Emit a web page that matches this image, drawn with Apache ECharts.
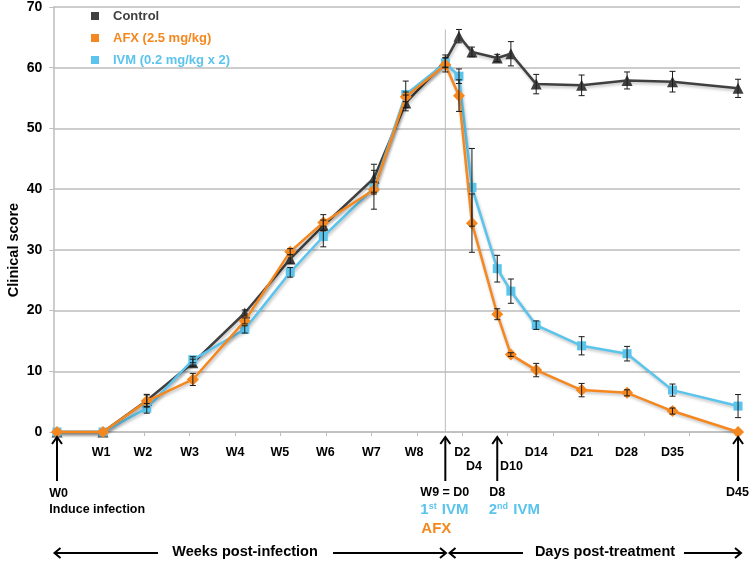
<!DOCTYPE html>
<html>
<head>
<meta charset="utf-8">
<script src="https://cdn.jsdelivr.net/npm/echarts@6/dist/echarts.min.js"></script>
<style>html,body{margin:0;padding:0;background:#fff;}#c{width:750px;height:563px;}</style>
</head>
<body>
<div id="c"></div>
<script>
// ---- data ----
var seriesNames = ['Control', 'AFX (2.5 mg/kg)', 'IVM (0.2 mg/kg x 2)'];
var timePoints = ['W0','W1','W2','W3','W4','W5','W6','W7','W8','D0','D2','D4','D8','D10','D14','D21','D28','D35','D45'];
var xValues = [0.57, 7.66, 14.4, 21.5, 29.5, 36.5, 41.6, 49.4, 54.3, 60.4, 62.5, 64.5, 68.4, 70.5, 74.4, 81.4, 88.4, 95.4, 105.5];
var controlValues = [0, 0, 5.2, 11.4, 19.6, 28.5, 34.0, 41.8, 54.2, 61.1, 65.2, 62.6, 61.6, 62.3, 57.3, 57.1, 57.9, 57.7, 56.6];
var controlErr    = [0, 0, 1.0, 0.6, 0.5, 0.7, 0.9, 2.3, 1.3, 1.0, 1.1, 0.8, 0.6, 2.0, 1.6, 1.7, 1.4, 1.7, 1.5];
var afxValues = [0, 0, 5.1, 8.65, 18.3, 29.7, 34.5, 39.9, 55.2, 60.5, 55.4, 34.4, 19.4, 12.75, 10.2, 6.9, 6.45, 3.45, 0];
var afxErr    = [0, 0, 1.0, 1.0, 0.5, 0.5, 1.3, 3.2, 0.8, 1.2, 2.6, 4.8, 0.9, 0.3, 1.1, 1.1, 0.5, 0.5, 0];
var ivmValues = [0, 0, 3.9, 11.9, 16.9, 26.3, 32.2, 40.2, 55.6, 60.8, 58.6, 40.3, 26.9, 23.2, 17.6, 14.2, 12.9, 6.9, 4.27];
var ivmErr    = [0, 0, 0.8, 0.5, 0.6, 0.8, 1.7, 1.0, 2.2, 0.8, 1.2, 6.4, 2.2, 2.0, 0.7, 1.5, 1.2, 1.0, 1.9];
var yTicks = [0, 10, 20, 30, 40, 50, 60, 70];
var xTickValues = [7, 14, 21, 28, 35, 42, 49, 56, 63, 70, 77, 84, 91, 98, 105];
var xLabelTexts = ['W1','W2','W3','W4','W5','W6','W7','W8','D2','D4','D10','D14','D21','D28','D35'];
var xLabelAt    = [7.35, 13.8, 21.0, 28.0, 34.9, 41.9, 49.0, 55.6, 63.0, 64.8, 70.6, 74.4, 81.4, 88.3, 95.4];
var xLabelRow   = [0, 0, 0, 0, 0, 0, 0, 0, 0, 1, 1, 0, 0, 0, 0];
var treatmentLineX = 60.4;
var treatmentLineTop = 66.3;

// ---- styles ----
var FONT = '"Liberation Sans", Arial, sans-serif';
var C_CTRL = '#404040', C_AFX = '#F5871F', C_IVM = '#5BC4EC';
var GRID = '#BDBDBD';

function pairs(xs, ys) { return xs.map(function (x, i) { return [x, ys[i]]; }); }
function triples(xs, ys, es) { return xs.map(function (x, i) { return [x, ys[i], es[i]]; }); }

function errRender(params, api) {
  var x = api.value(0), y = api.value(1), e = api.value(2);
  if (!e) return null;
  var top = api.coord([x, y + e]), bot = api.coord([x, y - e]);
  var w = 3;
  var st = { stroke: '#1a1a1a', lineWidth: 1 };
  return { type: 'group', children: [
    { type: 'line', shape: { x1: top[0], y1: top[1], x2: bot[0], y2: bot[1] }, style: st },
    { type: 'line', shape: { x1: top[0] - w, y1: top[1], x2: top[0] + w, y2: top[1] }, style: st },
    { type: 'line', shape: { x1: bot[0] - w, y1: bot[1], x2: bot[0] + w, y2: bot[1] }, style: st }
  ]};
}

var shadow = { shadowBlur: 3, shadowColor: 'rgba(0,0,0,0.25)', shadowOffsetX: 1, shadowOffsetY: 2 };

var chart = echarts.init(document.getElementById('c'), null, { renderer: 'canvas' });
var option = {
  animation: false,
  backgroundColor: '#fff',
  grid: { left: 53.3, right: 10, top: 6, bottom: 131, containLabel: false },
  legend: {
    orient: 'vertical', left: 91, top: 9, padding: 0, itemWidth: 8, itemHeight: 8, itemGap: 8,
    icon: 'rect',
    data: [
      { name: seriesNames[0], textStyle: { color: C_CTRL } },
      { name: seriesNames[1], textStyle: { color: C_AFX } },
      { name: seriesNames[2], textStyle: { color: C_IVM } }
    ],
    textStyle: { fontFamily: FONT, fontWeight: 'bold', fontSize: 13, lineHeight: 14, padding: [0, 0, 0, 9] }
  },
  xAxis: {
    type: 'value', min: 0, max: 105.8,
    axisLine: { show: true, onZero: false, lineStyle: { color: GRID, width: 1.5 } },
    axisTick: { show: true, customValues: xTickValues, length: 4, lineStyle: { color: GRID, width: 1 } },
    axisLabel: { show: false },
    splitLine: { show: false }
  },
  yAxis: {
    type: 'value', min: yTicks[0], max: yTicks[yTicks.length - 1], interval: 10,
    axisLine: { show: true, lineStyle: { color: GRID, width: 1.5 } },
    axisTick: { show: true, length: 4, lineStyle: { color: GRID, width: 1 } },
    axisLabel: { fontFamily: FONT, fontWeight: 'bold', fontSize: 14, color: '#000', margin: 11 },
    splitLine: { show: true, lineStyle: { color: GRID, width: 1.5 } }
  },
  series: [
    { name: 'd0line', type: 'line', silent: true, symbol: 'none', z: 1,
      data: [[treatmentLineX, 0], [treatmentLineX, treatmentLineTop]],
      lineStyle: { color: '#BBBBBB', width: 1 } },
    { name: seriesNames[0], type: 'line', data: pairs(xValues, controlValues), clip: false, z: 3,
      symbol: 'triangle', symbolSize: 11, itemStyle: { color: C_CTRL },
      lineStyle: Object.assign({ color: C_CTRL, width: 2.5 }, shadow) },
    { name: seriesNames[2], type: 'line', data: pairs(xValues, ivmValues), clip: false, z: 4,
      symbol: 'rect', symbolSize: 9, itemStyle: { color: C_IVM },
      lineStyle: Object.assign({ color: C_IVM, width: 2.5 }, shadow) },
    { name: seriesNames[1], type: 'line', data: pairs(xValues, afxValues), clip: false, z: 5,
      symbol: 'diamond', symbolSize: 12, itemStyle: { color: C_AFX },
      lineStyle: Object.assign({ color: C_AFX, width: 2.5 }, shadow) },
    { type: 'custom', name: 'errCtrl', renderItem: errRender, data: triples(xValues, controlValues, controlErr), z: 6, silent: true },
    { type: 'custom', name: 'errIvm', renderItem: errRender, data: triples(xValues, ivmValues, ivmErr), z: 6, silent: true },
    { type: 'custom', name: 'errAfx', renderItem: errRender, data: triples(xValues, afxValues, afxErr), z: 6, silent: true }
  ]
};
chart.setOption(option);

// ---- annotations positioned via the chart's own scales ----
function px(x, y) { return chart.convertToPixel({ xAxisIndex: 0, yAxisIndex: 0 }, [x, y]); }
var g = [];
var bold = function (size) { return 'bold ' + size + 'px ' + FONT; };
function txt(t, x, y, size, color, align) {
  g.push({ type: 'text', z: 50, style: { text: t, x: x, y: y, font: bold(size), fill: color || '#000', align: align || 'center', verticalAlign: 'middle' } });
}
// x-axis labels
var axisY = px(0, 0)[1];
xLabelTexts.forEach(function (t, i) {
  var p = px(xLabelAt[i], 0);
  txt(t, p[0], axisY + (xLabelRow[i] ? 35 : 20.5), 12.5, '#000', 'center');
});
// y axis name
g.push({ type: 'text', z: 50, rotation: Math.PI / 2, x: 14, y: 250,
  style: { text: 'Clinical score', x: 0, y: 0, font: bold(14.5), fill: '#000', align: 'center', verticalAlign: 'middle' } });

// vertical arrows
function vArrow(xv) {
  var p = px(xv, 0);
  var x = p[0], tip = axisY + 5, bottom = axisY + 49;
  g.push({ type: 'line', z: 50, shape: { x1: x, y1: tip + 1, x2: x, y2: bottom }, style: { stroke: '#000', lineWidth: 2 } });
  g.push({ type: 'polyline', z: 50, shape: { points: [[x - 5, tip + 7], [x, tip], [x + 5, tip + 7]] }, style: { stroke: '#000', lineWidth: 2, fill: null } });
}
[xValues[0], xValues[9], xValues[12], xValues[18]].forEach(vArrow);

var p0 = px(xValues[0], 0), pD0 = px(xValues[9], 0), pD8 = px(xValues[12], 0);
txt('W0', p0[0] - 7.7, 494, 12.5, '#000', 'left');
txt('Induce infection', p0[0] - 7.7, 509.5, 12.5, '#000', 'left');
txt('W9 = D0', pD0[0] - 25, 493, 12.5, '#000', 'left');
txt('D8', pD8[0], 493, 12.5, '#000', 'center');
txt('D45', 749, 493, 12.5, '#000', 'right');
var supRich = {
  n: { font: bold(15), fill: C_IVM },
  s: { font: bold(9), fill: C_IVM, verticalAlign: 'top', padding: [0, 1, 0, 0] }
};
g.push({ type: 'text', z: 50, style: { text: '{n|1}{s|st}{n| IVM}', x: pD0[0] - 25, y: 509.5, rich: supRich, align: 'left', verticalAlign: 'middle' } });
g.push({ type: 'text', z: 50, style: { text: '{n|2}{s|nd}{n| IVM}', x: pD8[0] - 8.5, y: 509.5, rich: supRich, align: 'left', verticalAlign: 'middle' } });
txt('AFX', pD0[0] - 24, 529, 15, C_AFX, 'left');

// bottom double arrows
function hLine(x1, x2, y) {
  g.push({ type: 'line', z: 50, shape: { x1: x1, y1: y, x2: x2, y2: y }, style: { stroke: '#000', lineWidth: 2 } });
}
function headL(x, y) { g.push({ type: 'polyline', z: 50, shape: { points: [[x + 6, y - 5], [x, y], [x + 6, y + 5]] }, style: { stroke: '#000', lineWidth: 2, fill: null } }); }
function headR(x, y) { g.push({ type: 'polyline', z: 50, shape: { points: [[x - 6, y - 5], [x, y], [x - 6, y + 5]] }, style: { stroke: '#000', lineWidth: 2, fill: null } }); }
var by = 553;
hLine(55, 158, by); headL(54.5, by);
hLine(333, 445, by); headR(446, by);
txt('Weeks post-infection', 245, by - 1, 14.5, '#000', 'center');
hLine(450, 523, by); headL(449.5, by);
hLine(684, 740, by); headR(741, by);
txt('Days post-treatment', 605, by - 1, 14.5, '#000', 'center');

chart.setOption({ graphic: g });
</script>
</body>
</html>
